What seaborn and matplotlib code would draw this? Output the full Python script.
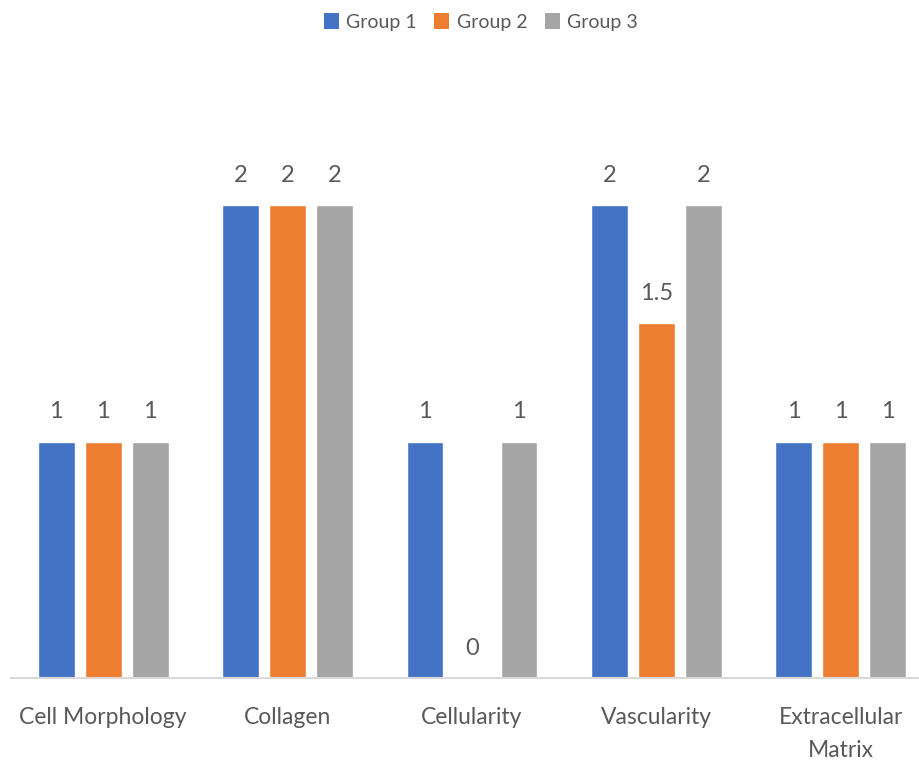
import matplotlib
matplotlib.use("Agg")
import matplotlib.pyplot as plt
import seaborn as sns
import pandas as pd
from matplotlib.patches import Patch

categories = ["Cell Morphology", "Collagen", "Cellularity", "Vascularity", "Extracellular\nMatrix"]
groups = ["Group 1", "Group 2", "Group 3"]
group1 = [1, 2, 1, 2, 1]
group2 = [1, 2, 0, 1.5, 1]
group3 = [1, 2, 1, 2, 1]

colors = ["#4472C4", "#ED7D31", "#A5A5A5"]
text_color = "#595959"

rows = []
for g, vals in zip(groups, [group1, group2, group3]):
    for c, v in zip(categories, vals):
        rows.append({"category": c, "group": g, "value": v})
df = pd.DataFrame(rows)

sns.set_style("white")
plt.rcParams["font.family"] = ["Lato", "DejaVu Sans"]

fig = plt.figure(figsize=(9.2, 7.68), dpi=100)
W, H = 920, 768
left_px, right_px = 11, 933
bottom_px, top_px = 678, 87
ax = fig.add_axes([left_px / W, 1 - bottom_px / H, (right_px - left_px) / W, (bottom_px - top_px) / H])

sns.barplot(data=df, x="category", y="value", hue="group", palette=colors,
            width=0.764, gap=0.214, order=categories, hue_order=groups,
            ax=ax, legend=False, errorbar=None, saturation=1)

ax.set_ylim(0, 2.5)
ax.set_xlim(-0.5, len(categories) - 0.5)
ax.set_xlabel("")
ax.set_ylabel("")
ax.set_yticks([])
for s in ["top", "right", "left"]:
    ax.spines[s].set_visible(False)
ax.spines["bottom"].set_color("#D9D9D9")
ax.spines["bottom"].set_linewidth(1.5)
ax.tick_params(axis="x", length=0, pad=21, labelsize=16.5, labelcolor=text_color)
for lbl in ax.get_xticklabels():
    lbl.set_linespacing(1.7)

for cont in ax.containers:
    labels = [("%g" % b.get_height()) for b in cont]
    ax.bar_label(cont, labels=labels, padding=14, fontsize=17, color=text_color)

handles = [Patch(facecolor=c, edgecolor="none") for c in colors]
fig.legend(handles, groups, loc="center", bbox_to_anchor=(481 / W, 1 - 22 / H),
           ncol=3, frameon=False, fontsize=14, labelcolor=text_color,
           handlelength=0.75, handleheight=0.85, handletextpad=0.4, columnspacing=0.9)

fig.savefig("out.png", dpi=100)
